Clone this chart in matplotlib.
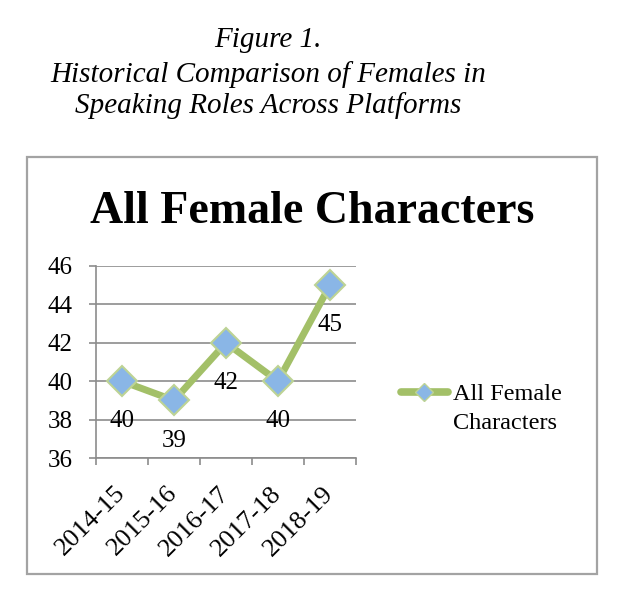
import numpy as np
import matplotlib.pyplot as plt
import matplotlib.transforms as mtransforms
from matplotlib.patches import Rectangle
from matplotlib.lines import Line2D

seasons = ['2014-15', '2015-16', '2016-17', '2017-18', '2018-19']
female_pct = [40, 39, 42, 40, 45]
chart_title = 'All Female Characters'
legend_lines = ['All Female', 'Characters']
caption = ['Figure 1.', 'Historical Comparison of Females in',
           'Speaking Roles Across Platforms']

line_green = '#A3C068'
marker_blue = '#8AB6E6'
marker_edge = '#BDD394'
grid_gray = '#8C8C8C'
serif = 'Liberation Serif'

W, H = 633, 609
fig = plt.figure(figsize=(W / 100, H / 100), dpi=100)


def fx(px):
    return px / W


def fy(py):
    return 1 - py / H


# caption above the chart box
for line, base in zip(caption, [47, 82, 113]):
    fig.text(fx(268), fy(base), line, ha='center', va='baseline',
             fontsize=21, style='italic', family=serif)

# chart border
fig.patches.append(Rectangle((fx(27), fy(574)), fx(570), 417 / H,
                             transform=fig.transFigure, fill=False,
                             edgecolor='#A3A3A3', linewidth=1.6))

fig.text(fx(312), fy(223), chart_title, ha='center', va='baseline',
         fontsize=33, fontweight='bold', family=serif)

ax = fig.add_axes([fx(96), fy(458), 260 / W, 192 / H])
x = np.arange(len(seasons))
ax.plot(x, female_pct, color=line_green, linewidth=5, solid_capstyle='round',
        solid_joinstyle='round', marker='D', markersize=15,
        markerfacecolor=marker_blue, markeredgecolor=marker_edge,
        markeredgewidth=1.5, zorder=3)

for xi, v in zip(x, female_pct):
    ax.annotate(str(v), (xi, v), xytext=(0, -29), textcoords='offset points',
                ha='center', va='center', fontsize=18, family=serif)

ax.set_xlim(-0.5, len(seasons) - 0.5)
ax.set_ylim(36, 46)
ax.set_yticks(np.arange(36, 47, 2))
ax.set_xticks(x)
ax.set_xticklabels(seasons, rotation=45, ha='right', va='center',
                   rotation_mode='anchor', family=serif, fontsize=19)
shift = mtransforms.ScaledTranslation(9 / 72, 0, fig.dpi_scale_trans)
for lbl in ax.get_xticklabels():
    lbl.set_transform(lbl.get_transform() + shift)
ax.set_xticks(np.arange(-0.5, len(seasons)), minor=True)
ax.tick_params(axis='x', which='major', length=0, pad=23)
ax.tick_params(axis='x', which='minor', length=5, width=1.2, color=grid_gray)
ax.tick_params(axis='y', length=5, width=1.2, color=grid_gray,
               labelsize=18, pad=12)
for lbl in ax.get_yticklabels():
    lbl.set_family(serif)

ax.grid(axis='y', color=grid_gray, linewidth=1.2)
ax.set_axisbelow(True)
for side in ['top', 'right']:
    ax.spines[side].set_visible(False)
for side in ['left', 'bottom']:
    ax.spines[side].set_color(grid_gray)
    ax.spines[side].set_linewidth(1.2)

# legend drawn by hand so the key sits on the first text line
fig.add_artist(Line2D([fx(401), fx(448)], [fy(392), fy(392)],
                      transform=fig.transFigure, color=line_green,
                      linewidth=5.5, solid_capstyle='round'))
fig.add_artist(Line2D([fx(424)], [fy(392)], transform=fig.transFigure,
                      marker='D', markersize=9, markerfacecolor=marker_blue,
                      markeredgecolor=marker_edge, linestyle='none'))
for line, base in zip(legend_lines, [400, 429]):
    fig.text(fx(453), fy(base), line, ha='left', va='baseline',
             fontsize=17.5, family=serif)

fig.savefig('out.png', dpi=100)
